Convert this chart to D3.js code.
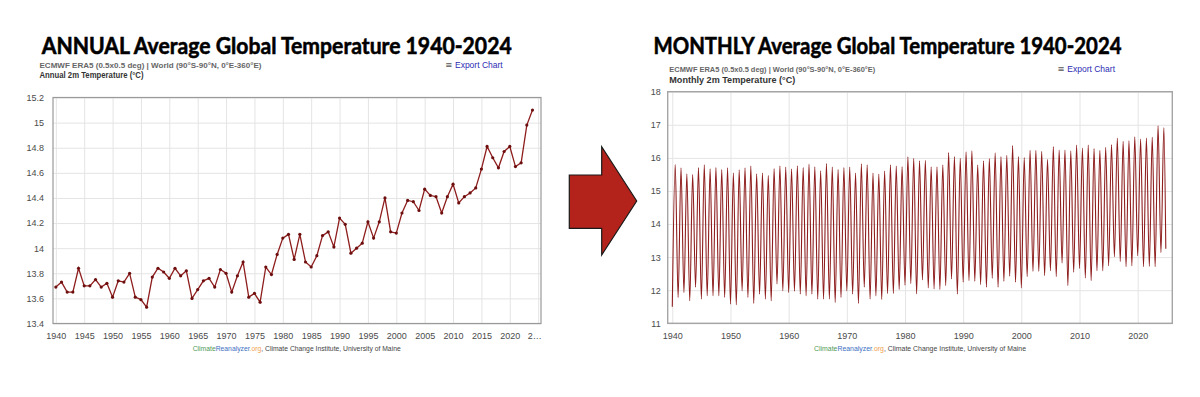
<!DOCTYPE html>
<html>
<head>
<meta charset="utf-8" />
<title>Average Global Temperature 1940-2024</title>
<style>
body { margin: 0; background: #fff; }
svg { display: block; }
.tick text { font-family: "Liberation Sans", Arial, sans-serif; font-size: 9px; fill: #4a4a4a; }
.grid line { stroke: #e4e4e4; stroke-width: 1px; }
.grid .domain { display: none; }
</style>
</head>
<body>
<script src="https://cdn.jsdelivr.net/npm/d3@7"></script>
<script>
// ---- data ----
var annualYears = d3.range(1940, 2025);
var annualTemp = [
  13.69, 13.73, 13.65, 13.65, 13.84, 13.70, 13.70, 13.75, 13.69, 13.72,
  13.61, 13.74, 13.73, 13.80, 13.61, 13.59, 13.53, 13.77, 13.84, 13.81,
  13.76, 13.84, 13.78, 13.82, 13.60, 13.67, 13.74, 13.76, 13.69, 13.83,
  13.80, 13.65, 13.78, 13.89, 13.61, 13.64, 13.57, 13.85, 13.79, 13.95,
  14.08, 14.11, 13.91, 14.11, 13.89, 13.85, 13.94, 14.10, 14.13, 14.01,
  14.24, 14.19, 13.96, 14.00, 14.04, 14.21, 14.08, 14.21, 14.40, 14.13,
  14.12, 14.28, 14.38, 14.37, 14.30, 14.47, 14.42, 14.41, 14.28, 14.41,
  14.51, 14.36, 14.41, 14.44, 14.48, 14.63, 14.81, 14.72, 14.64, 14.77,
  14.81, 14.65, 14.68, 14.98, 15.10
];
var annualXTicks = [1940, 1945, 1950, 1955, 1960, 1965, 1970, 1975, 1980, 1985,
                    1990, 1995, 2000, 2005, 2010, 2015, 2020, 2025];
var annualYTicks = [13.4, 13.6, 13.8, 14, 14.2, 14.4, 14.6, 14.8, 15, 15.2];

// monthly series: January lows and July highs for each year, plus the last month shown
var monthYears = d3.range(1940, 2025);
var janTemp = [
  11.50, 11.78, 11.93, 11.68, 12.09, 11.73, 11.83, 11.83, 11.83, 11.78,
  11.58, 11.56, 11.98, 11.78, 11.60, 11.88, 11.73, 11.68, 12.19, 11.98,
  11.93, 11.97, 11.88, 11.83, 11.88, 11.73, 11.73, 11.73, 11.63, 11.78,
  11.98, 11.88, 11.60, 12.09, 11.73, 11.83, 11.72, 11.90, 11.90, 12.02,
  12.15, 12.20, 11.89, 12.31, 12.07, 12.04, 12.02, 12.14, 12.34, 11.88,
  12.24, 12.29, 12.27, 12.17, 12.09, 12.36, 12.09, 12.27, 12.42, 12.24,
  12.07, 12.41, 12.57, 12.57, 12.44, 12.59, 12.41, 12.82, 12.14, 12.54,
  12.66, 12.37, 12.29, 12.59, 12.59, 12.74, 13.01, 12.87, 12.71, 12.74,
  13.04, 12.71, 12.72, 12.71, 13.14
];
var julTemp = [
  15.80, 15.70, 15.52, 15.50, 15.71, 15.79, 15.67, 15.71, 15.65, 15.70,
  15.54, 15.64, 15.70, 15.75, 15.52, 15.54, 15.47, 15.68, 15.76, 15.72,
  15.67, 15.76, 15.71, 15.81, 15.73, 15.61, 15.83, 15.72, 15.65, 15.71,
  15.72, 15.54, 15.82, 15.79, 15.54, 15.51, 15.60, 15.79, 15.75, 15.74,
  16.03, 15.99, 15.91, 15.93, 15.73, 15.73, 15.79, 16.16, 16.04, 15.99,
  16.18, 16.21, 15.79, 15.91, 15.98, 16.15, 16.04, 16.08, 16.37, 16.04,
  16.01, 16.23, 16.23, 16.20, 15.96, 16.34, 16.24, 16.24, 16.21, 16.39,
  16.30, 16.39, 16.28, 16.23, 16.32, 16.40, 16.60, 16.50, 16.52, 16.64,
  16.57, 16.60, 16.62, 16.97, 16.92
];
var lastMonth = { t: 2024 + 10 / 12, v: 13.25 };
var monthXTicks = [1940, 1950, 1960, 1970, 1980, 1990, 2000, 2010, 2020];
var monthYTicks = [11, 12, 13, 14, 15, 16, 17, 18];

var subtitle = "ECMWF ERA5 (0.5x0.5 deg) | World (90\u00b0S-90\u00b0N, 0\u00b0E-360\u00b0E)";

var svg = d3.select("body").append("svg")
  .attr("width", 1200)
  .attr("height", 397);

svg.append("rect").attr("width", 1200).attr("height", 397).attr("fill", "#fff");

var FONT = '"Liberation Sans", Arial, sans-serif';

function heading(x, y, txt, len) {
  svg.append("text")
    .attr("x", x).attr("y", y)
    .attr("text-anchor", "middle")
    .attr("textLength", len)
    .attr("lengthAdjust", "spacingAndGlyphs")
    .style("font-family", "Lato, 'Open Sans', sans-serif")
    .style("font-weight", 700)
    .style("font-size", "22.5px")
    .style("fill", "#000")
    .style("stroke", "#000")
    .style("stroke-width", "0.55px")
    .text(txt);
}

function chartHeader(o) {
  svg.append("text")
    .attr("x", o.x).attr("y", o.y1)
    .attr("textLength", o.w1).attr("lengthAdjust", "spacingAndGlyphs")
    .style("font-family", FONT).style("font-size", "8px").style("font-weight", 700)
    .style("fill", "#666")
    .text(subtitle);
  svg.append("text")
    .attr("x", o.x).attr("y", o.y2)
    .attr("textLength", o.w2).attr("lengthAdjust", "spacingAndGlyphs")
    .style("font-family", FONT).style("font-size", "9.5px").style("font-weight", 700)
    .style("fill", "#333")
    .text(o.title);
  var ex = svg.append("text")
    .attr("x", o.ex).attr("y", o.y1)
    .attr("text-anchor", "end")
    .style("font-family", FONT).style("font-size", "8.5px")
    .style("fill", "#2b2bb3");
  ex.append("tspan").style("font-family", "'DejaVu Sans', sans-serif").style("fill", "#555").text("\u2261 ");
  ex.append("tspan").text("Export Chart");
}

function credit(cx, y, len) {
  var t = svg.append("text")
    .attr("x", cx).attr("y", y)
    .attr("text-anchor", "middle")
    .attr("textLength", len).attr("lengthAdjust", "spacingAndGlyphs")
    .style("font-family", FONT).style("font-size", "7px");
  t.append("tspan").style("fill", "#4f9a55").text("Climate");
  t.append("tspan").style("fill", "#3d70c2").text("Reanalyzer");
  t.append("tspan").style("fill", "#f0a14c").text(".org");
  t.append("tspan").style("fill", "#444").text(", Climate Change Institute, University of Maine");
}

// ---------------- left: annual ----------------
var A = { left: 53, right: 541, top: 97.5, bottom: 323.5 };

var xA = d3.scaleLinear().domain([1939.5, 2025.5]).range([A.left, A.right]);
var yA = d3.scaleLinear().domain([13.4, 15.2]).range([A.bottom, A.top]);

heading(276.7, 53.5, "ANNUAL Average Global Temperature 1940-2024", 470);
chartHeader({ x: 39.5, y1: 67.5, y2: 77.5, w1: 222, w2: 104, ex: 502.7,
              title: "Annual 2m Temperature (\u00b0C)" });

var gA = svg.append("g");

gA.append("g").attr("class", "grid")
  .attr("transform", "translate(0," + A.bottom + ")")
  .call(d3.axisBottom(xA).tickValues(annualXTicks).tickSize(-(A.bottom - A.top)).tickFormat(""));
gA.append("g").attr("class", "grid")
  .attr("transform", "translate(" + A.left + ",0)")
  .call(d3.axisLeft(yA).tickValues(annualYTicks).tickSize(-(A.right - A.left)).tickFormat(""));

gA.append("rect")
  .attr("x", A.left).attr("y", A.top)
  .attr("width", A.right - A.left).attr("height", A.bottom - A.top)
  .attr("fill", "none").attr("stroke", "#9a9a9a").attr("stroke-width", 1.2);

var axA = gA.append("g")
  .attr("transform", "translate(0," + A.bottom + ")")
  .call(d3.axisBottom(xA).tickValues(annualXTicks).tickSize(0).tickPadding(9)
    .tickFormat(function (d) { return d === 2025 ? "2\u2026" : d; }));
axA.select(".domain").remove();
axA.selectAll(".tick text").filter(function (d) { return d === 2025; }).attr("dx", -4);

var ayA = gA.append("g")
  .attr("transform", "translate(" + A.left + ",0)")
  .call(d3.axisLeft(yA).tickValues(annualYTicks).tickSize(0).tickPadding(9)
    .tickFormat(function (d) { return String(+d.toFixed(1)); }));
ayA.select(".domain").remove();

var annual = annualYears.map(function (y, i) { return { t: y, v: annualTemp[i] }; });

gA.append("path")
  .datum(annual)
  .attr("fill", "none")
  .attr("stroke", "#8e1d1d")
  .attr("stroke-width", 1.3)
  .attr("d", d3.line().x(function (d) { return xA(d.t); }).y(function (d) { return yA(d.v); }));

gA.selectAll(".dot")
  .data(annual)
  .enter().append("circle")
  .attr("class", "dot")
  .attr("cx", function (d) { return xA(d.t); })
  .attr("cy", function (d) { return yA(d.v); })
  .attr("r", 1.6)
  .attr("fill", "#6e0f0f");

credit(296.7, 351, 208);

// ---------------- arrow ----------------
svg.append("polygon")
  .attr("points", "569.3,175 601.7,175 601.7,146.7 636.7,201 601.7,255 601.7,228.3 569.3,228.3")
  .attr("fill", "#b3231b")
  .attr("stroke", "#1a1a1a")
  .attr("stroke-width", 1.2);

// ---------------- right: monthly ----------------
var M = { left: 667.7, right: 1172.3, top: 91.7, bottom: 323.3 };

var xM = d3.scaleLinear().domain([1939.21, 2025.95]).range([M.left, M.right]);
var yM = d3.scaleLinear().domain([11, 18]).range([M.bottom, M.top]);

heading(887.5, 53.5, "MONTHLY Average Global Temperature 1940-2024", 468);
chartHeader({ x: 669.3, y1: 72, y2: 83, w1: 206, w2: 126, ex: 1115,
              title: "Monthly 2m Temperature (\u00b0C)" });

var gM = svg.append("g");

gM.append("g").attr("class", "grid")
  .attr("transform", "translate(0," + M.bottom + ")")
  .call(d3.axisBottom(xM).tickValues(monthXTicks).tickSize(-(M.bottom - M.top)).tickFormat(""));
gM.append("g").attr("class", "grid")
  .attr("transform", "translate(" + M.left + ",0)")
  .call(d3.axisLeft(yM).tickValues(monthYTicks).tickSize(-(M.right - M.left)).tickFormat(""));

gM.append("rect")
  .attr("x", M.left).attr("y", M.top)
  .attr("width", M.right - M.left).attr("height", M.bottom - M.top)
  .attr("fill", "none").attr("stroke", "#a5a5a5").attr("stroke-width", 1.4);

var axM = gM.append("g")
  .attr("transform", "translate(0," + M.bottom + ")")
  .call(d3.axisBottom(xM).tickValues(monthXTicks).tickSize(0).tickPadding(9).tickFormat(d3.format("d")));
axM.select(".domain").remove();

var ayM = gM.append("g")
  .attr("transform", "translate(" + (M.left - 1) + ",0)")
  .call(d3.axisLeft(yM).tickValues(monthYTicks).tickSize(0).tickPadding(6).tickFormat(d3.format("d")));
ayM.select(".domain").remove();

var monthly = [];
monthYears.forEach(function (y, i) {
  monthly.push({ t: y, v: janTemp[i] });
  monthly.push({ t: y + 0.5, v: julTemp[i] });
});
monthly.push(lastMonth);

gM.append("path")
  .datum(monthly)
  .attr("fill", "none")
  .attr("stroke", "#8e1d1d")
  .attr("stroke-width", 1.1)
  .attr("stroke-linejoin", "round")
  .attr("d", d3.line().curve(d3.curveMonotoneX)
    .x(function (d) { return xM(d.t); })
    .y(function (d) { return yM(d.v); }));

credit(920, 351, 212);
</script>
</body>
</html>
